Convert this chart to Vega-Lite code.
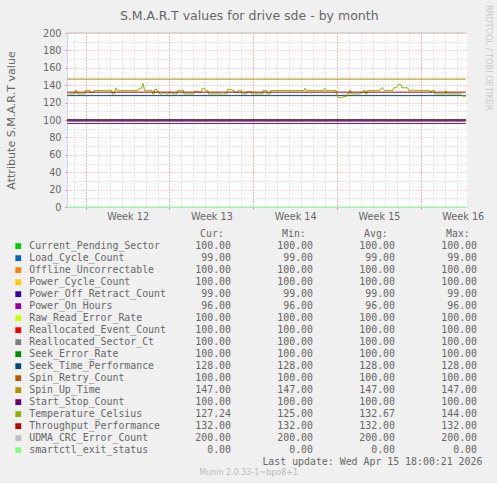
{
  "$schema": "https://vega.github.io/schema/vega-lite/v6.json",
  "background": "#F0F0F0",
  "padding": {"left": 5, "top": 5, "right": 5, "bottom": 6},
  "title": {"text": "S.M.A.R.T values for drive sde - by month", "fontSize": 12.5, "fontWeight": "normal", "color": "#666666", "anchor": "middle", "frame": "bounds", "offset": -17},
  "spacing": 33,
  "bounds": "flush",
  "config": {"font": "DejaVu Sans", "view": {"stroke": null}},
  "datasets": {
    "lines": [
      {"series": "Current_Pending_Sector", "time": "2026-03-13T11:00:00Z", "value": 100},
      {"series": "Current_Pending_Sector", "time": "2026-04-15T18:00:00Z", "value": 100},
      {"series": "Load_Cycle_Count", "time": "2026-03-13T11:00:00Z", "value": 99},
      {"series": "Load_Cycle_Count", "time": "2026-04-15T18:00:00Z", "value": 99},
      {"series": "Offline_Uncorrectable", "time": "2026-03-13T11:00:00Z", "value": 100},
      {"series": "Offline_Uncorrectable", "time": "2026-04-15T18:00:00Z", "value": 100},
      {"series": "Power_Cycle_Count", "time": "2026-03-13T11:00:00Z", "value": 100},
      {"series": "Power_Cycle_Count", "time": "2026-04-15T18:00:00Z", "value": 100},
      {"series": "Power_Off_Retract_Count", "time": "2026-03-13T11:00:00Z", "value": 99},
      {"series": "Power_Off_Retract_Count", "time": "2026-04-15T18:00:00Z", "value": 99},
      {"series": "Power_On_Hours", "time": "2026-03-13T11:00:00Z", "value": 96},
      {"series": "Power_On_Hours", "time": "2026-04-15T18:00:00Z", "value": 96},
      {"series": "Raw_Read_Error_Rate", "time": "2026-03-13T11:00:00Z", "value": 100},
      {"series": "Raw_Read_Error_Rate", "time": "2026-04-15T18:00:00Z", "value": 100},
      {"series": "Reallocated_Event_Count", "time": "2026-03-13T11:00:00Z", "value": 100},
      {"series": "Reallocated_Event_Count", "time": "2026-04-15T18:00:00Z", "value": 100},
      {"series": "Reallocated_Sector_Ct", "time": "2026-03-13T11:00:00Z", "value": 100},
      {"series": "Reallocated_Sector_Ct", "time": "2026-04-15T18:00:00Z", "value": 100},
      {"series": "Seek_Error_Rate", "time": "2026-03-13T11:00:00Z", "value": 100},
      {"series": "Seek_Error_Rate", "time": "2026-04-15T18:00:00Z", "value": 100},
      {"series": "Seek_Time_Performance", "time": "2026-03-13T11:00:00Z", "value": 128},
      {"series": "Seek_Time_Performance", "time": "2026-04-15T18:00:00Z", "value": 128},
      {"series": "Spin_Retry_Count", "time": "2026-03-13T11:00:00Z", "value": 100},
      {"series": "Spin_Retry_Count", "time": "2026-04-15T18:00:00Z", "value": 100},
      {"series": "Spin_Up_Time", "time": "2026-03-13T11:00:00Z", "value": 147},
      {"series": "Spin_Up_Time", "time": "2026-04-15T18:00:00Z", "value": 147},
      {"series": "Start_Stop_Count", "time": "2026-03-13T11:00:00Z", "value": 100},
      {"series": "Start_Stop_Count", "time": "2026-04-15T18:00:00Z", "value": 100},
      {"series": "Temperature_Celsius", "time": "2026-03-13T11:00:00Z", "value": 130},
      {"series": "Temperature_Celsius", "time": "2026-03-14T02:00:00Z", "value": 130},
      {"series": "Temperature_Celsius", "time": "2026-03-14T03:00:00Z", "value": 134},
      {"series": "Temperature_Celsius", "time": "2026-03-14T06:00:00Z", "value": 134},
      {"series": "Temperature_Celsius", "time": "2026-03-14T07:00:00Z", "value": 130},
      {"series": "Temperature_Celsius", "time": "2026-03-14T22:00:00Z", "value": 130},
      {"series": "Temperature_Celsius", "time": "2026-03-14T23:00:00Z", "value": 134},
      {"series": "Temperature_Celsius", "time": "2026-03-15T09:00:00Z", "value": 134},
      {"series": "Temperature_Celsius", "time": "2026-03-15T10:00:00Z", "value": 131.5},
      {"series": "Temperature_Celsius", "time": "2026-03-15T16:00:00Z", "value": 131.5},
      {"series": "Temperature_Celsius", "time": "2026-03-15T17:00:00Z", "value": 134},
      {"series": "Temperature_Celsius", "time": "2026-03-17T04:00:00Z", "value": 134},
      {"series": "Temperature_Celsius", "time": "2026-03-17T05:00:00Z", "value": 130},
      {"series": "Temperature_Celsius", "time": "2026-03-17T09:00:00Z", "value": 130},
      {"series": "Temperature_Celsius", "time": "2026-03-17T12:00:00Z", "value": 137},
      {"series": "Temperature_Celsius", "time": "2026-03-17T15:00:00Z", "value": 134},
      {"series": "Temperature_Celsius", "time": "2026-03-19T09:00:00Z", "value": 134},
      {"series": "Temperature_Celsius", "time": "2026-03-19T11:00:00Z", "value": 136},
      {"series": "Temperature_Celsius", "time": "2026-03-19T15:00:00Z", "value": 136},
      {"series": "Temperature_Celsius", "time": "2026-03-19T19:00:00Z", "value": 142},
      {"series": "Temperature_Celsius", "time": "2026-03-19T22:00:00Z", "value": 134},
      {"series": "Temperature_Celsius", "time": "2026-03-20T13:00:00Z", "value": 134},
      {"series": "Temperature_Celsius", "time": "2026-03-20T14:00:00Z", "value": 130},
      {"series": "Temperature_Celsius", "time": "2026-03-20T17:00:00Z", "value": 130},
      {"series": "Temperature_Celsius", "time": "2026-03-20T18:00:00Z", "value": 135},
      {"series": "Temperature_Celsius", "time": "2026-03-20T23:00:00Z", "value": 135},
      {"series": "Temperature_Celsius", "time": "2026-03-21T00:00:00Z", "value": 132.5},
      {"series": "Temperature_Celsius", "time": "2026-03-21T03:00:00Z", "value": 132.5},
      {"series": "Temperature_Celsius", "time": "2026-03-21T04:00:00Z", "value": 130},
      {"series": "Temperature_Celsius", "time": "2026-03-21T09:00:00Z", "value": 130},
      {"series": "Temperature_Celsius", "time": "2026-03-21T10:00:00Z", "value": 131.5},
      {"series": "Temperature_Celsius", "time": "2026-03-21T15:00:00Z", "value": 131.5},
      {"series": "Temperature_Celsius", "time": "2026-03-21T16:00:00Z", "value": 130},
      {"series": "Temperature_Celsius", "time": "2026-03-21T22:00:00Z", "value": 130},
      {"series": "Temperature_Celsius", "time": "2026-03-21T23:00:00Z", "value": 131.5},
      {"series": "Temperature_Celsius", "time": "2026-03-22T05:00:00Z", "value": 131.5},
      {"series": "Temperature_Celsius", "time": "2026-03-22T06:00:00Z", "value": 130},
      {"series": "Temperature_Celsius", "time": "2026-03-22T15:00:00Z", "value": 130},
      {"series": "Temperature_Celsius", "time": "2026-03-22T16:00:00Z", "value": 134},
      {"series": "Temperature_Celsius", "time": "2026-03-23T04:00:00Z", "value": 134},
      {"series": "Temperature_Celsius", "time": "2026-03-23T05:00:00Z", "value": 130},
      {"series": "Temperature_Celsius", "time": "2026-03-24T01:00:00Z", "value": 130},
      {"series": "Temperature_Celsius", "time": "2026-03-24T02:00:00Z", "value": 133},
      {"series": "Temperature_Celsius", "time": "2026-03-24T11:00:00Z", "value": 133},
      {"series": "Temperature_Celsius", "time": "2026-03-24T12:00:00Z", "value": 131.5},
      {"series": "Temperature_Celsius", "time": "2026-03-24T15:00:00Z", "value": 131.5},
      {"series": "Temperature_Celsius", "time": "2026-03-24T18:00:00Z", "value": 136.5},
      {"series": "Temperature_Celsius", "time": "2026-03-24T22:00:00Z", "value": 136.5},
      {"series": "Temperature_Celsius", "time": "2026-03-25T00:00:00Z", "value": 134},
      {"series": "Temperature_Celsius", "time": "2026-03-25T05:00:00Z", "value": 134},
      {"series": "Temperature_Celsius", "time": "2026-03-25T06:00:00Z", "value": 130},
      {"series": "Temperature_Celsius", "time": "2026-03-26T08:00:00Z", "value": 130},
      {"series": "Temperature_Celsius", "time": "2026-03-26T10:00:00Z", "value": 129},
      {"series": "Temperature_Celsius", "time": "2026-03-26T12:00:00Z", "value": 129},
      {"series": "Temperature_Celsius", "time": "2026-03-26T14:00:00Z", "value": 130},
      {"series": "Temperature_Celsius", "time": "2026-03-26T19:00:00Z", "value": 130},
      {"series": "Temperature_Celsius", "time": "2026-03-26T20:00:00Z", "value": 135},
      {"series": "Temperature_Celsius", "time": "2026-03-27T04:00:00Z", "value": 135},
      {"series": "Temperature_Celsius", "time": "2026-03-27T05:00:00Z", "value": 134},
      {"series": "Temperature_Celsius", "time": "2026-03-27T10:00:00Z", "value": 134},
      {"series": "Temperature_Celsius", "time": "2026-03-27T11:00:00Z", "value": 131.5},
      {"series": "Temperature_Celsius", "time": "2026-03-27T17:00:00Z", "value": 131.5},
      {"series": "Temperature_Celsius", "time": "2026-03-27T18:00:00Z", "value": 134},
      {"series": "Temperature_Celsius", "time": "2026-03-28T00:00:00Z", "value": 134},
      {"series": "Temperature_Celsius", "time": "2026-03-28T01:00:00Z", "value": 130},
      {"series": "Temperature_Celsius", "time": "2026-03-28T10:00:00Z", "value": 130},
      {"series": "Temperature_Celsius", "time": "2026-03-28T11:00:00Z", "value": 132.5},
      {"series": "Temperature_Celsius", "time": "2026-03-28T20:00:00Z", "value": 132.5},
      {"series": "Temperature_Celsius", "time": "2026-03-28T21:00:00Z", "value": 130},
      {"series": "Temperature_Celsius", "time": "2026-03-29T19:00:00Z", "value": 130},
      {"series": "Temperature_Celsius", "time": "2026-03-29T20:00:00Z", "value": 134},
      {"series": "Temperature_Celsius", "time": "2026-03-30T03:00:00Z", "value": 134},
      {"series": "Temperature_Celsius", "time": "2026-03-30T04:00:00Z", "value": 130},
      {"series": "Temperature_Celsius", "time": "2026-03-30T10:00:00Z", "value": 130},
      {"series": "Temperature_Celsius", "time": "2026-03-30T11:00:00Z", "value": 134},
      {"series": "Temperature_Celsius", "time": "2026-04-02T06:00:00Z", "value": 134},
      {"series": "Temperature_Celsius", "time": "2026-04-02T08:00:00Z", "value": 136.5},
      {"series": "Temperature_Celsius", "time": "2026-04-02T10:00:00Z", "value": 134},
      {"series": "Temperature_Celsius", "time": "2026-04-03T21:00:00Z", "value": 134},
      {"series": "Temperature_Celsius", "time": "2026-04-03T23:00:00Z", "value": 136.5},
      {"series": "Temperature_Celsius", "time": "2026-04-04T01:00:00Z", "value": 134},
      {"series": "Temperature_Celsius", "time": "2026-04-04T22:00:00Z", "value": 134},
      {"series": "Temperature_Celsius", "time": "2026-04-04T23:00:00Z", "value": 128},
      {"series": "Temperature_Celsius", "time": "2026-04-05T02:00:00Z", "value": 126},
      {"series": "Temperature_Celsius", "time": "2026-04-05T11:00:00Z", "value": 125.5},
      {"series": "Temperature_Celsius", "time": "2026-04-05T12:00:00Z", "value": 127},
      {"series": "Temperature_Celsius", "time": "2026-04-05T19:00:00Z", "value": 127},
      {"series": "Temperature_Celsius", "time": "2026-04-05T20:00:00Z", "value": 130},
      {"series": "Temperature_Celsius", "time": "2026-04-06T00:00:00Z", "value": 130},
      {"series": "Temperature_Celsius", "time": "2026-04-06T01:00:00Z", "value": 134},
      {"series": "Temperature_Celsius", "time": "2026-04-06T03:00:00Z", "value": 134},
      {"series": "Temperature_Celsius", "time": "2026-04-06T04:00:00Z", "value": 130},
      {"series": "Temperature_Celsius", "time": "2026-04-06T22:00:00Z", "value": 130},
      {"series": "Temperature_Celsius", "time": "2026-04-06T23:00:00Z", "value": 131.5},
      {"series": "Temperature_Celsius", "time": "2026-04-07T04:00:00Z", "value": 131.5},
      {"series": "Temperature_Celsius", "time": "2026-04-07T05:00:00Z", "value": 134},
      {"series": "Temperature_Celsius", "time": "2026-04-07T08:00:00Z", "value": 134},
      {"series": "Temperature_Celsius", "time": "2026-04-07T09:00:00Z", "value": 130},
      {"series": "Temperature_Celsius", "time": "2026-04-07T12:00:00Z", "value": 130},
      {"series": "Temperature_Celsius", "time": "2026-04-07T13:00:00Z", "value": 134},
      {"series": "Temperature_Celsius", "time": "2026-04-08T14:00:00Z", "value": 134},
      {"series": "Temperature_Celsius", "time": "2026-04-08T19:00:00Z", "value": 137.5},
      {"series": "Temperature_Celsius", "time": "2026-04-08T23:00:00Z", "value": 134},
      {"series": "Temperature_Celsius", "time": "2026-04-09T16:00:00Z", "value": 134},
      {"series": "Temperature_Celsius", "time": "2026-04-09T17:00:00Z", "value": 137},
      {"series": "Temperature_Celsius", "time": "2026-04-09T23:00:00Z", "value": 137},
      {"series": "Temperature_Celsius", "time": "2026-04-10T02:00:00Z", "value": 140.5},
      {"series": "Temperature_Celsius", "time": "2026-04-10T06:00:00Z", "value": 141},
      {"series": "Temperature_Celsius", "time": "2026-04-10T09:00:00Z", "value": 140},
      {"series": "Temperature_Celsius", "time": "2026-04-10T10:00:00Z", "value": 137},
      {"series": "Temperature_Celsius", "time": "2026-04-10T22:00:00Z", "value": 137},
      {"series": "Temperature_Celsius", "time": "2026-04-10T23:00:00Z", "value": 134},
      {"series": "Temperature_Celsius", "time": "2026-04-11T06:00:00Z", "value": 134},
      {"series": "Temperature_Celsius", "time": "2026-04-11T08:00:00Z", "value": 135},
      {"series": "Temperature_Celsius", "time": "2026-04-11T10:00:00Z", "value": 134},
      {"series": "Temperature_Celsius", "time": "2026-04-12T18:00:00Z", "value": 134},
      {"series": "Temperature_Celsius", "time": "2026-04-12T19:00:00Z", "value": 132},
      {"series": "Temperature_Celsius", "time": "2026-04-12T21:00:00Z", "value": 132},
      {"series": "Temperature_Celsius", "time": "2026-04-12T22:00:00Z", "value": 134},
      {"series": "Temperature_Celsius", "time": "2026-04-13T03:00:00Z", "value": 134},
      {"series": "Temperature_Celsius", "time": "2026-04-13T04:00:00Z", "value": 130},
      {"series": "Temperature_Celsius", "time": "2026-04-14T00:00:00Z", "value": 130},
      {"series": "Temperature_Celsius", "time": "2026-04-14T02:00:00Z", "value": 134},
      {"series": "Temperature_Celsius", "time": "2026-04-14T03:00:00Z", "value": 130},
      {"series": "Temperature_Celsius", "time": "2026-04-15T09:00:00Z", "value": 130},
      {"series": "Temperature_Celsius", "time": "2026-04-15T11:00:00Z", "value": 127.5},
      {"series": "Temperature_Celsius", "time": "2026-04-15T18:00:00Z", "value": 127.24},
      {"series": "Throughput_Performance", "time": "2026-03-13T11:00:00Z", "value": 132},
      {"series": "Throughput_Performance", "time": "2026-04-15T18:00:00Z", "value": 132},
      {"series": "UDMA_CRC_Error_Count", "time": "2026-03-13T11:00:00Z", "value": 200},
      {"series": "UDMA_CRC_Error_Count", "time": "2026-04-15T18:00:00Z", "value": 200},
      {"series": "smartctl_exit_status", "time": "2026-03-13T11:00:00Z", "value": 0},
      {"series": "smartctl_exit_status", "time": "2026-04-15T18:00:00Z", "value": 0}
    ],
    "stats": [
      {"series": "Current_Pending_Sector", "cur": 100, "min": 100, "avg": 100, "max": 100},
      {"series": "Load_Cycle_Count", "cur": 99, "min": 99, "avg": 99, "max": 99},
      {"series": "Offline_Uncorrectable", "cur": 100, "min": 100, "avg": 100, "max": 100},
      {"series": "Power_Cycle_Count", "cur": 100, "min": 100, "avg": 100, "max": 100},
      {"series": "Power_Off_Retract_Count", "cur": 99, "min": 99, "avg": 99, "max": 99},
      {"series": "Power_On_Hours", "cur": 96, "min": 96, "avg": 96, "max": 96},
      {"series": "Raw_Read_Error_Rate", "cur": 100, "min": 100, "avg": 100, "max": 100},
      {"series": "Reallocated_Event_Count", "cur": 100, "min": 100, "avg": 100, "max": 100},
      {"series": "Reallocated_Sector_Ct", "cur": 100, "min": 100, "avg": 100, "max": 100},
      {"series": "Seek_Error_Rate", "cur": 100, "min": 100, "avg": 100, "max": 100},
      {"series": "Seek_Time_Performance", "cur": 128, "min": 128, "avg": 128, "max": 128},
      {"series": "Spin_Retry_Count", "cur": 100, "min": 100, "avg": 100, "max": 100},
      {"series": "Spin_Up_Time", "cur": 147, "min": 147, "avg": 147, "max": 147},
      {"series": "Start_Stop_Count", "cur": 100, "min": 100, "avg": 100, "max": 100},
      {"series": "Temperature_Celsius", "cur": 127.24, "min": 125, "avg": 132.67, "max": 144},
      {"series": "Throughput_Performance", "cur": 132, "min": 132, "avg": 132, "max": 132},
      {"series": "UDMA_CRC_Error_Count", "cur": 200, "min": 200, "avg": 200, "max": 200},
      {"series": "smartctl_exit_status", "cur": 0, "min": 0, "avg": 0, "max": 0}
    ]
  },
  "vconcat": [
    {
      "width": 400,
      "height": 174,
      "view": {"fill": "#FFFFFF"},
      "title": {"text": "RRDTOOL / TOBI OETIKER", "orient": "right", "anchor": "start", "frame": "group", "fontSize": 8.2, "fontWeight": "normal", "color": "#C8C8C8", "offset": 0, "dx": -28},
      "layer": [
        {
          "data": {"name": "lines"},
          "mark": {"type": "line", "strokeWidth": 1},
          "encoding": {
            "x": {
              "field": "time", "type": "temporal",
              "scale": {"type": "utc", "nice": false, "domain": [
                {"year": 2026, "month": 3, "date": 13, "hours": 10, "minutes": 30, "utc": true},
                {"year": 2026, "month": 4, "date": 15, "hours": 20, "minutes": 30, "utc": true}]},
              "axis": {"orient": "bottom", "tickCount": {"interval": "day", "step": 1}, "grid": true, "gridColor": "#8F8F8F", "gridOpacity": 0.45, "gridDash": [1, 2], "labels": false, "ticks": false, "domain": false, "title": null}
            },
            "y": {
              "field": "value", "type": "quantitative",
              "scale": {"domain": [0, 200], "nice": false},
              "axis": {"orient": "left", "values": [10, 30, 50, 70, 90, 110, 130, 150, 170, 190], "grid": true, "gridColor": "#8F8F8F", "gridOpacity": 0.45, "gridDash": [1, 2], "labels": false, "ticks": false, "domain": false, "title": null}
            },
            "color": {
              "field": "series", "type": "nominal",
              "scale": {
                "domain": ["Current_Pending_Sector", "Load_Cycle_Count", "Offline_Uncorrectable", "Power_Cycle_Count", "Power_Off_Retract_Count", "Power_On_Hours", "Raw_Read_Error_Rate", "Reallocated_Event_Count", "Reallocated_Sector_Ct", "Seek_Error_Rate", "Seek_Time_Performance", "Spin_Retry_Count", "Spin_Up_Time", "Start_Stop_Count", "Temperature_Celsius", "Throughput_Performance", "UDMA_CRC_Error_Count", "smartctl_exit_status"],
                "range": ["#00CC00", "#0066B3", "#FF8000", "#FFCC00", "#330099", "#990099", "#CCFF00", "#FF0000", "#808080", "#008F00", "#00487D", "#B35A00", "#B38F00", "#6B006B", "#8FB300", "#B30000", "#BEBEBE", "#80FF80"]
              },
              "legend": {
                "orient": "none", "legendX": -53.7, "legendY": 208.2, "title": null, "direction": "vertical",
                "symbolType": "square", "symbolSize": 34, "symbolStrokeWidth": 0,
                "labelFont": "DejaVu Sans Mono", "labelFontSize": 9.9, "labelColor": "#666666", "labelOffset": 6, "labelLimit": 0,
                "rowPadding": 1.0, "padding": 0,
                "encode": {"symbols": {"update": {"fill": {"scale": "color", "field": "value"}, "stroke": {"value": "transparent"}, "opacity": {"value": 1}}}}
              }
            }
          }
        },
        {
          "data": {"name": "lines"},
          "mark": {"type": "point", "opacity": 0},
          "encoding": {
            "x": {
              "field": "time", "type": "temporal",
              "axis": {"orient": "bottom", "tickCount": {"interval": "week", "step": 1}, "grid": true, "gridColor": "#FF0000", "gridOpacity": 0.35, "gridDash": [1, 2],
                "ticks": true, "tickColor": "#FF0000", "tickOpacity": 0.5, "tickSize": 2,
                "domain": true, "domainColor": "#CFD6F8", "title": null,
                "labelExpr": "'Week ' + utcFormat(toNumber(datum.value) + 302400000, '%V')",
                "labelOffset": 41.9, "labelPadding": 2, "labelFlush": false, "labelOverlap": false,
                "labelFontSize": 9.7, "labelColor": "#666666"}
            },
            "y": {
              "field": "value", "type": "quantitative",
              "axis": {"orient": "left", "values": [0, 20, 40, 60, 80, 100, 120, 140, 160, 180, 200], "grid": true, "gridColor": "#FF0000", "gridOpacity": 0.35, "gridDash": [1, 2],
                "ticks": true, "tickColor": "#FF0000", "tickOpacity": 0.5, "tickSize": 2,
                "domain": true, "domainColor": "#CFD6F8",
                "labelFontSize": 9.7, "labelColor": "#666666", "labelPadding": 4,
                "title": "Attribute S.M.A.R.T value", "titleFontSize": 11.1, "titleFontWeight": "normal", "titleColor": "#666666", "titlePadding": 26}
            }
          }
        }
      ],
      "resolve": {"axis": {"x": "independent", "y": "independent"}}
    },
    {
      "width": 410,
      "height": 227.4,
      "title": {"text": "Munin 2.0.33-1~bpo8+1", "orient": "bottom", "anchor": "middle", "frame": "group", "fontSize": 8, "fontWeight": "normal", "color": "#BBBBBB", "offset": 1.5, "dx": -23.4},
      "layer": [
        {
          "data": {"name": "stats"},
          "transform": [{"fold": ["cur", "min", "avg", "max"], "as": ["stat", "amount"]}],
          "mark": {"type": "text", "align": "right", "baseline": "middle", "font": "DejaVu Sans Mono", "fontSize": 9.9, "color": "#666666"},
          "encoding": {
            "x": {
              "field": "stat", "type": "nominal",
              "scale": {"type": "point", "domain": ["cur", "min", "avg", "max"], "padding": 1.119, "align": 1},
              "axis": {"orient": "top", "title": null, "domain": false, "ticks": false, "grid": false, "labelAngle": 0,
                "labelAlign": "right", "labelOffset": -7.7, "labelPadding": 2,
                "labelFont": "DejaVu Sans Mono", "labelFontSize": 9.9, "labelColor": "#666666",
                "labelExpr": "datum.value == 'cur' ? 'Cur:' : datum.value == 'min' ? 'Min:' : datum.value == 'avg' ? 'Avg:' : 'Max:'"}
            },
            "y": {
              "field": "series", "type": "nominal",
              "scale": {"type": "point", "padding": 0.475, "domain": ["Current_Pending_Sector", "Load_Cycle_Count", "Offline_Uncorrectable", "Power_Cycle_Count", "Power_Off_Retract_Count", "Power_On_Hours", "Raw_Read_Error_Rate", "Reallocated_Event_Count", "Reallocated_Sector_Ct", "Seek_Error_Rate", "Seek_Time_Performance", "Spin_Retry_Count", "Spin_Up_Time", "Start_Stop_Count", "Temperature_Celsius", "Throughput_Performance", "UDMA_CRC_Error_Count", "smartctl_exit_status", "update"]},
              "axis": null
            },
            "text": {"field": "amount", "type": "quantitative", "format": ".2f"}
          }
        },
        {
          "data": {"values": [{"note": "Last update: Wed Apr 15 18:00:21 2026"}]},
          "mark": {"type": "text", "align": "right", "baseline": "middle", "dx": 5.4, "font": "DejaVu Sans Mono", "fontSize": 9.9, "color": "#666666"},
          "encoding": {
            "x": {"datum": "max", "type": "nominal"},
            "y": {"datum": "update", "type": "nominal"},
            "text": {"field": "note", "type": "nominal"}
          }
        }
      ]
    }
  ]
}
